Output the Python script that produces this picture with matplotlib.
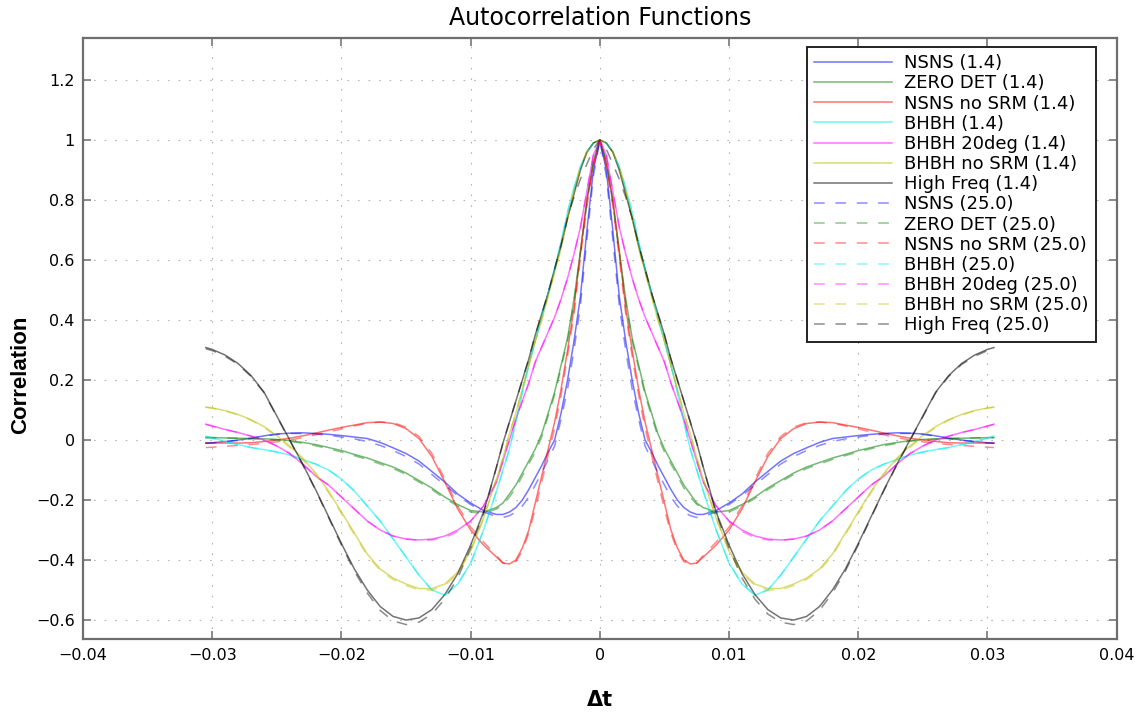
import matplotlib
matplotlib.use("Agg")
import matplotlib.pyplot as plt
from matplotlib.ticker import FuncFormatter, MultipleLocator
import numpy as np

# right half of each autocorrelation (x >= 0), the curves are symmetric
dt = [0, 0.0005, 0.001, 0.0015, 0.002, 0.0025, 0.003, 0.0035, 0.004, 0.0045,
      0.005, 0.0055, 0.006, 0.0065, 0.007, 0.0075, 0.008, 0.009, 0.010, 0.011,
      0.012, 0.013, 0.014, 0.015, 0.016, 0.017, 0.018, 0.019, 0.020, 0.021,
      0.022, 0.023, 0.024, 0.025, 0.026, 0.027, 0.028, 0.029, 0.030, 0.0305]

nsns_14 = [1.0, 0.9, 0.7, 0.48, 0.33, 0.2, 0.09, 0.0, -0.04, -0.085,
           -0.125, -0.165, -0.2, -0.225, -0.24, -0.248, -0.248, -0.235, -0.21, -0.18,
           -0.14, -0.105, -0.07, -0.045, -0.026, -0.008, 0.005, 0.01, 0.015, 0.019,
           0.022, 0.024, 0.023, 0.02, 0.014, 0.006, 0.0, -0.005, -0.009, -0.01]
zero_14 = [1.0, 0.93, 0.8, 0.63, 0.47, 0.34, 0.25, 0.16, 0.09, 0.02,
           -0.03, -0.07, -0.11, -0.15, -0.18, -0.21, -0.225, -0.24, -0.235, -0.215,
           -0.19, -0.16, -0.135, -0.11, -0.09, -0.075, -0.06, -0.048, -0.035, -0.025,
           -0.015, -0.008, -0.002, 0.002, 0.004, 0.005, 0.006, 0.007, 0.008, 0.008]
nsns_nosrm_14 = [1.0, 0.92, 0.8, 0.63, 0.44, 0.3, 0.17, 0.06, -0.03, -0.12,
                 -0.21, -0.3, -0.36, -0.4, -0.413, -0.41, -0.39, -0.35, -0.3, -0.23,
                 -0.14, -0.055, 0.005, 0.038, 0.055, 0.06, 0.058, 0.05, 0.042, 0.033,
                 0.023, 0.014, 0.006, 0.0, -0.005, -0.009, -0.01, -0.01, -0.01, -0.01]
bhbh_14 = [1.0, 0.99, 0.96, 0.91, 0.84, 0.76, 0.66, 0.57, 0.49, 0.41,
           0.33, 0.25, 0.16, 0.06, -0.03, -0.1, -0.17, -0.3, -0.41, -0.48,
           -0.517, -0.5, -0.45, -0.39, -0.33, -0.27, -0.22, -0.17, -0.13, -0.1,
           -0.08, -0.065, -0.05, -0.04, -0.032, -0.025, -0.015, -0.005, 0.008, 0.013]
bhbh20_14 = [1.0, 0.95, 0.83, 0.71, 0.62, 0.54, 0.47, 0.41, 0.36, 0.31,
             0.26, 0.19, 0.13, 0.07, 0.0, -0.07, -0.14, -0.22, -0.27, -0.3,
             -0.32, -0.33, -0.333, -0.33, -0.32, -0.3, -0.27, -0.23, -0.19, -0.15,
             -0.12, -0.08, -0.045, -0.02, 0.0, 0.013, 0.025, 0.035, 0.047, 0.053]
bhbh_nosrm_14 = [1.0, 0.99, 0.96, 0.91, 0.83, 0.74, 0.64, 0.56, 0.48, 0.4,
                 0.33, 0.25, 0.17, 0.09, 0.02, -0.06, -0.13, -0.26, -0.37, -0.44,
                 -0.48, -0.495, -0.495, -0.48, -0.46, -0.43, -0.38, -0.31, -0.24, -0.17,
                 -0.11, -0.06, -0.02, 0.015, 0.045, 0.068, 0.085, 0.098, 0.107, 0.11]
highfreq_14 = [1.0, 0.99, 0.96, 0.9, 0.82, 0.74, 0.65, 0.57, 0.49, 0.42,
               0.35, 0.27, 0.2, 0.13, 0.06, -0.01, -0.09, -0.24, -0.35, -0.445,
               -0.515, -0.565, -0.593, -0.6, -0.588, -0.555, -0.5, -0.43, -0.345, -0.255,
               -0.165, -0.08, 0.0, 0.08, 0.16, 0.215, 0.255, 0.283, 0.302, 0.308]

nsns_25 = [1.0, 0.88, 0.67, 0.45, 0.3, 0.17, 0.07, -0.02, -0.065, -0.11,
           -0.15, -0.19, -0.22, -0.24, -0.252, -0.258, -0.255, -0.24, -0.215, -0.185,
           -0.15, -0.115, -0.08, -0.055, -0.035, -0.018, -0.005, 0.004, 0.01, 0.016,
           0.02, 0.022, 0.022, 0.019, 0.013, 0.005, -0.001, -0.006, -0.01, -0.011]
zero_25 = [1.0, 0.93, 0.79, 0.62, 0.46, 0.33, 0.24, 0.15, 0.08, 0.01,
           -0.04, -0.08, -0.12, -0.16, -0.19, -0.215, -0.23, -0.245, -0.24, -0.22,
           -0.195, -0.165, -0.14, -0.115, -0.095, -0.08, -0.065, -0.052, -0.04, -0.029,
           -0.019, -0.011, -0.004, 0.0, 0.003, 0.005, 0.006, 0.007, 0.008, 0.008]
nsns_nosrm_25 = [1.0, 0.91, 0.78, 0.61, 0.42, 0.28, 0.15, 0.04, -0.05, -0.14,
                 -0.23, -0.31, -0.37, -0.405, -0.415, -0.41, -0.385, -0.34, -0.29, -0.22,
                 -0.13, -0.045, 0.012, 0.043, 0.058, 0.06, 0.056, 0.047, 0.037, 0.027,
                 0.017, 0.008, 0.0, -0.006, -0.011, -0.015, -0.018, -0.021, -0.024, -0.025]
bhbh_25 = [1.0, 0.99, 0.96, 0.91, 0.84, 0.76, 0.66, 0.57, 0.49, 0.41,
           0.33, 0.25, 0.16, 0.06, -0.03, -0.1, -0.17, -0.3, -0.41, -0.48,
           -0.515, -0.5, -0.45, -0.39, -0.33, -0.27, -0.22, -0.17, -0.13, -0.1,
           -0.08, -0.065, -0.05, -0.04, -0.032, -0.025, -0.016, -0.006, 0.006, 0.011]
bhbh20_25 = [1.0, 0.95, 0.83, 0.71, 0.62, 0.54, 0.47, 0.41, 0.36, 0.31,
             0.26, 0.19, 0.13, 0.07, 0.0, -0.07, -0.14, -0.22, -0.27, -0.305,
             -0.325, -0.333, -0.335, -0.33, -0.32, -0.3, -0.27, -0.23, -0.19, -0.15,
             -0.12, -0.08, -0.045, -0.02, 0.0, 0.013, 0.025, 0.035, 0.046, 0.052]
bhbh_nosrm_25 = [1.0, 0.99, 0.96, 0.91, 0.83, 0.74, 0.64, 0.56, 0.48, 0.4,
                 0.33, 0.25, 0.17, 0.09, 0.02, -0.06, -0.13, -0.26, -0.37, -0.445,
                 -0.485, -0.5, -0.5, -0.485, -0.465, -0.435, -0.385, -0.315, -0.245, -0.175,
                 -0.115, -0.065, -0.025, 0.012, 0.042, 0.066, 0.084, 0.097, 0.106, 0.109]
highfreq_25 = [1.0, 0.97, 0.92, 0.87, 0.81, 0.74, 0.65, 0.57, 0.49, 0.42,
               0.35, 0.27, 0.2, 0.13, 0.06, -0.01, -0.09, -0.245, -0.36, -0.46,
               -0.53, -0.58, -0.607, -0.615, -0.603, -0.568, -0.51, -0.437, -0.35, -0.258,
               -0.167, -0.082, -0.002, 0.078, 0.158, 0.212, 0.252, 0.279, 0.298, 0.304]

names = ["NSNS", "ZERO DET", "NSNS no SRM", "BHBH", "BHBH 20deg", "BHBH no SRM", "High Freq"]
series_14 = [nsns_14, zero_14, nsns_nosrm_14, bhbh_14, bhbh20_14, bhbh_nosrm_14, highfreq_14]
series_25 = [nsns_25, zero_25, nsns_nosrm_25, bhbh_25, bhbh20_25, bhbh_nosrm_25, highfreq_25]

# matlab b g r c m y k, washed out
colours = ['#0000ff', '#008000', '#ff0000', '#00eeee', '#ff00ff', '#bfbf00', '#000000']


def mirror(x, y):
    x = np.asarray(x)
    y = np.asarray(y)
    return np.concatenate([-x[::-1], x[1:]]), np.concatenate([y[::-1], y[1:]])


fig = plt.figure(figsize=(11.44, 7.19), dpi=100)
ax = fig.add_axes([0.0726, 0.1109, 0.9035, 0.8367])

for name, vals, c in zip(names, series_14, colours):
    xs, ys = mirror(dt, vals)
    ax.plot(xs, ys, color=c, alpha=0.55, lw=1.1, label=name + " (1.4)")
for name, vals, c in zip(names, series_25, colours):
    xs, ys = mirror(dt, vals)
    ax.plot(xs, ys, color=c, alpha=0.45, lw=1.1, linestyle=(0, (7, 7)), label=name + " (25.0)")

ax.set_xlim(-0.04, 0.04)
ax.set_ylim(-0.664, 1.341)
ax.xaxis.set_major_locator(MultipleLocator(0.01))
ax.yaxis.set_major_locator(MultipleLocator(0.2))


def fmt(v, pos):
    if abs(v) < 1e-9:
        return "0"
    return ("%g" % round(v, 4)).replace("-", "\u2212")


ax.xaxis.set_major_formatter(FuncFormatter(fmt))
ax.yaxis.set_major_formatter(FuncFormatter(fmt))

ax.grid(True, color='#b5b5b5', lw=0.8, linestyle=(0, (1.5, 8)))
ax.tick_params(direction='in', length=6, width=1.2, color='#777777', top=True, right=True,
               labelsize=11.5, pad=6)
for s in ax.spines.values():
    s.set_color('#6e6e6e')
    s.set_linewidth(1.6)

ax.set_title("Autocorrelation Functions", fontsize=17, pad=9)
ax.set_xlabel("\u0394t", fontsize=15, fontweight='bold')
ax.xaxis.set_label_coords(0.5, -0.085)
ax.set_ylabel("Correlation", fontsize=16, fontweight='bold',
              family=['Liberation Sans', 'DejaVu Sans'])
ax.yaxis.set_label_coords(-0.05, 0.44)

leg = ax.legend(loc='upper right', bbox_to_anchor=(0.980, 0.9845), borderaxespad=0,
                fontsize=13, handlelength=4.3, labelspacing=0.12, handletextpad=0.7,
                borderpad=0.4, fancybox=False, framealpha=1)
leg.get_frame().set_edgecolor('#222222')
leg.get_frame().set_linewidth(1.4)

fig.savefig("out.png", dpi=100)
